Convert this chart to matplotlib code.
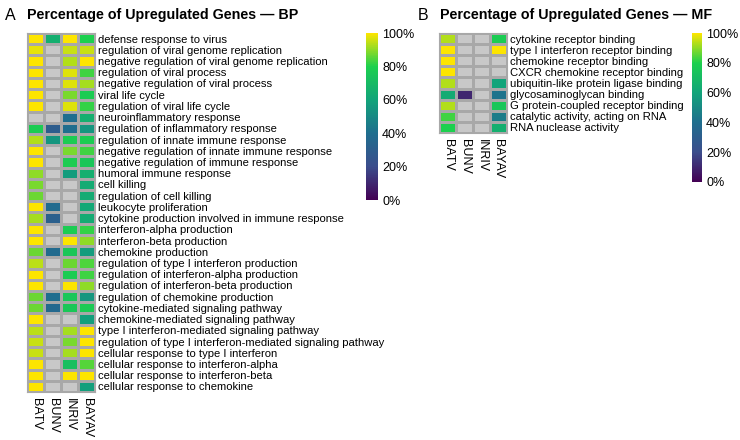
import numpy as np
import matplotlib
matplotlib.use("Agg")
import matplotlib.pyplot as plt
from matplotlib.colors import LinearSegmentedColormap

plt.rcParams['font.family'] = ['Liberation Sans', 'DejaVu Sans']

viruses = ["BATV", "BUNV", "INRIV", "BAYAV"]

bp_terms = [
    "defense response to virus",
    "regulation of viral genome replication",
    "negative regulation of viral genome replication",
    "regulation of viral process",
    "negative regulation of viral process",
    "viral life cycle",
    "regulation of viral life cycle",
    "neuroinflammatory response",
    "regulation of inflammatory response",
    "regulation of innate immune response",
    "negative regulation of innate immune response",
    "negative regulation of immune response",
    "humoral immune response",
    "cell killing",
    "regulation of cell killing",
    "leukocyte proliferation",
    "cytokine production involved in immune response",
    "interferon-alpha production",
    "interferon-beta production",
    "chemokine production",
    "regulation of type I interferon production",
    "regulation of interferon-alpha production",
    "regulation of interferon-beta production",
    "regulation of chemokine production",
    "cytokine-mediated signaling pathway",
    "chemokine-mediated signaling pathway",
    "type I interferon-mediated signaling pathway",
    "regulation of type I interferon-mediated signaling pathway",
    "cellular response to type I interferon",
    "cellular response to interferon-alpha",
    "cellular response to interferon-beta",
    "cellular response to chemokine",
]

nan = np.nan
# columns: BATV, BUNV, INRIV, BAYAV (percent upregulated, nan = no genes)
bp_batv = [100, 98, 100, 100, 100, 100, 100, nan, 78, 93, 100, 100, 90, 88, 87, 100,
           92, 100, 100, 87, 94, 100, 100, 87, 87, 100, 94, 95, 95, 100, 100, 100]
bp_bunv = [65, nan, nan, nan, nan, nan, nan, nan, 30, 55, nan, nan, nan, nan, nan, 38,
           32, nan, nan, 38, nan, nan, nan, 40, 37, nan, nan, nan, nan, nan, nan, nan]
bp_inriv = [100, 95, 93, 97, 97, 88, 97, 40, 40, 78, 88, 78, 57, nan, nan, nan,
            nan, 78, 100, 75, 87, 78, 100, 75, 76, nan, 92, 88, 92, 72, 100, nan]
bp_bayav = [80, 95, 100, 83, 92, 78, 82, 65, 55, 78, 83, 75, 65, 63, 63, 62,
            63, 82, 90, 57, 84, 83, 90, 55, 77, 58, 100, 100, 100, 85, 100, 58]

mf_terms = [
    "cytokine receptor binding",
    "type I interferon receptor binding",
    "chemokine receptor binding",
    "CXCR chemokine receptor binding",
    "ubiquitin-like protein ligase binding",
    "glycosaminoglycan binding",
    "G protein-coupled receptor binding",
    "catalytic activity, acting on RNA",
    "RNA nuclease activity",
]
mf_batv = [93, 100, 100, 100, 93, 63, 93, 83, 80]
mf_bunv = [nan, nan, nan, nan, nan, 10, nan, nan, nan]
mf_inriv = [nan, nan, nan, nan, nan, nan, nan, nan, nan]
mf_bayav = [78, 100, nan, nan, 60, 42, 75, 45, 65]

cbar_ticks = [0, 20, 40, 60, 80, 100]

cmap = LinearSegmentedColormap.from_list("pct", [
    (0.0, "#440154"), (0.2, "#3b4d8c"), (0.4, "#1f6e8e"),
    (0.6, "#12a47a"), (0.8, "#1cd04e"), (1.0, "#fde500")])
cmap.set_bad("#c8c8c8")

W, H = 740, 440
fig = plt.figure(figsize=(W / 100, H / 100), dpi=100)


def px_axes(x0, y0, x1, y1):
    return fig.add_axes([x0 / W, 1 - y1 / H, (x1 - x0) / W, (y1 - y0) / H])


def heat(ax, cols, terms):
    data = np.ma.masked_invalid(np.array(cols, dtype=float).T)
    mesh = ax.pcolormesh(data, cmap=cmap, vmin=0, vmax=100,
                         edgecolors="#a8a8a8", linewidth=0.8)
    ax.set_xlim(0, len(viruses))
    ax.set_ylim(len(terms), 0)
    ax.set_xticks(np.arange(len(viruses)) + 0.5)
    ax.set_xticklabels(viruses, rotation=-90, fontsize=9)
    ax.set_yticks(np.arange(len(terms)) + 0.5)
    ax.set_yticklabels(terms, fontsize=8.1)
    ax.yaxis.tick_right()
    ax.tick_params(length=0, pad=2)
    ax.tick_params(axis="x", pad=4)
    for s in ax.spines.values():
        s.set_color("#a8a8a8")
        s.set_linewidth(0.8)
    return mesh


def cbar(mesh, x0, y0, x1, y1):
    cax = px_axes(x0, y0, x1, y1)
    cb = fig.colorbar(mesh, cax=cax, ticks=cbar_ticks)
    cb.set_ticklabels([f"{t}%" for t in cbar_ticks])
    cb.outline.set_visible(False)
    cax.tick_params(length=0, labelsize=9, pad=3)


axA = px_axes(27, 33, 95, 392)
mA = heat(axA, [bp_batv, bp_bunv, bp_inriv, bp_bayav], bp_terms)
cbar(mA, 366, 33, 378, 200)
fig.text(5 / W, 1 - 15 / H, "A", fontsize=11.5, va="center")
fig.text(27 / W, 1 - 15 / H, "Percentage of Upregulated Genes \u2014 BP",
         fontsize=10.3, fontweight="bold", va="center")

axB = px_axes(439, 33, 507, 133)
mB = heat(axB, [mf_batv, mf_bunv, mf_inriv, mf_bayav], mf_terms)
cbar(mB, 692, 33, 702, 182)
fig.text(418 / W, 1 - 15 / H, "B", fontsize=11.5, va="center")
fig.text(440 / W, 1 - 15 / H, "Percentage of Upregulated Genes \u2014 MF",
         fontsize=10.3, fontweight="bold", va="center")

fig.savefig("out.png", dpi=100)
